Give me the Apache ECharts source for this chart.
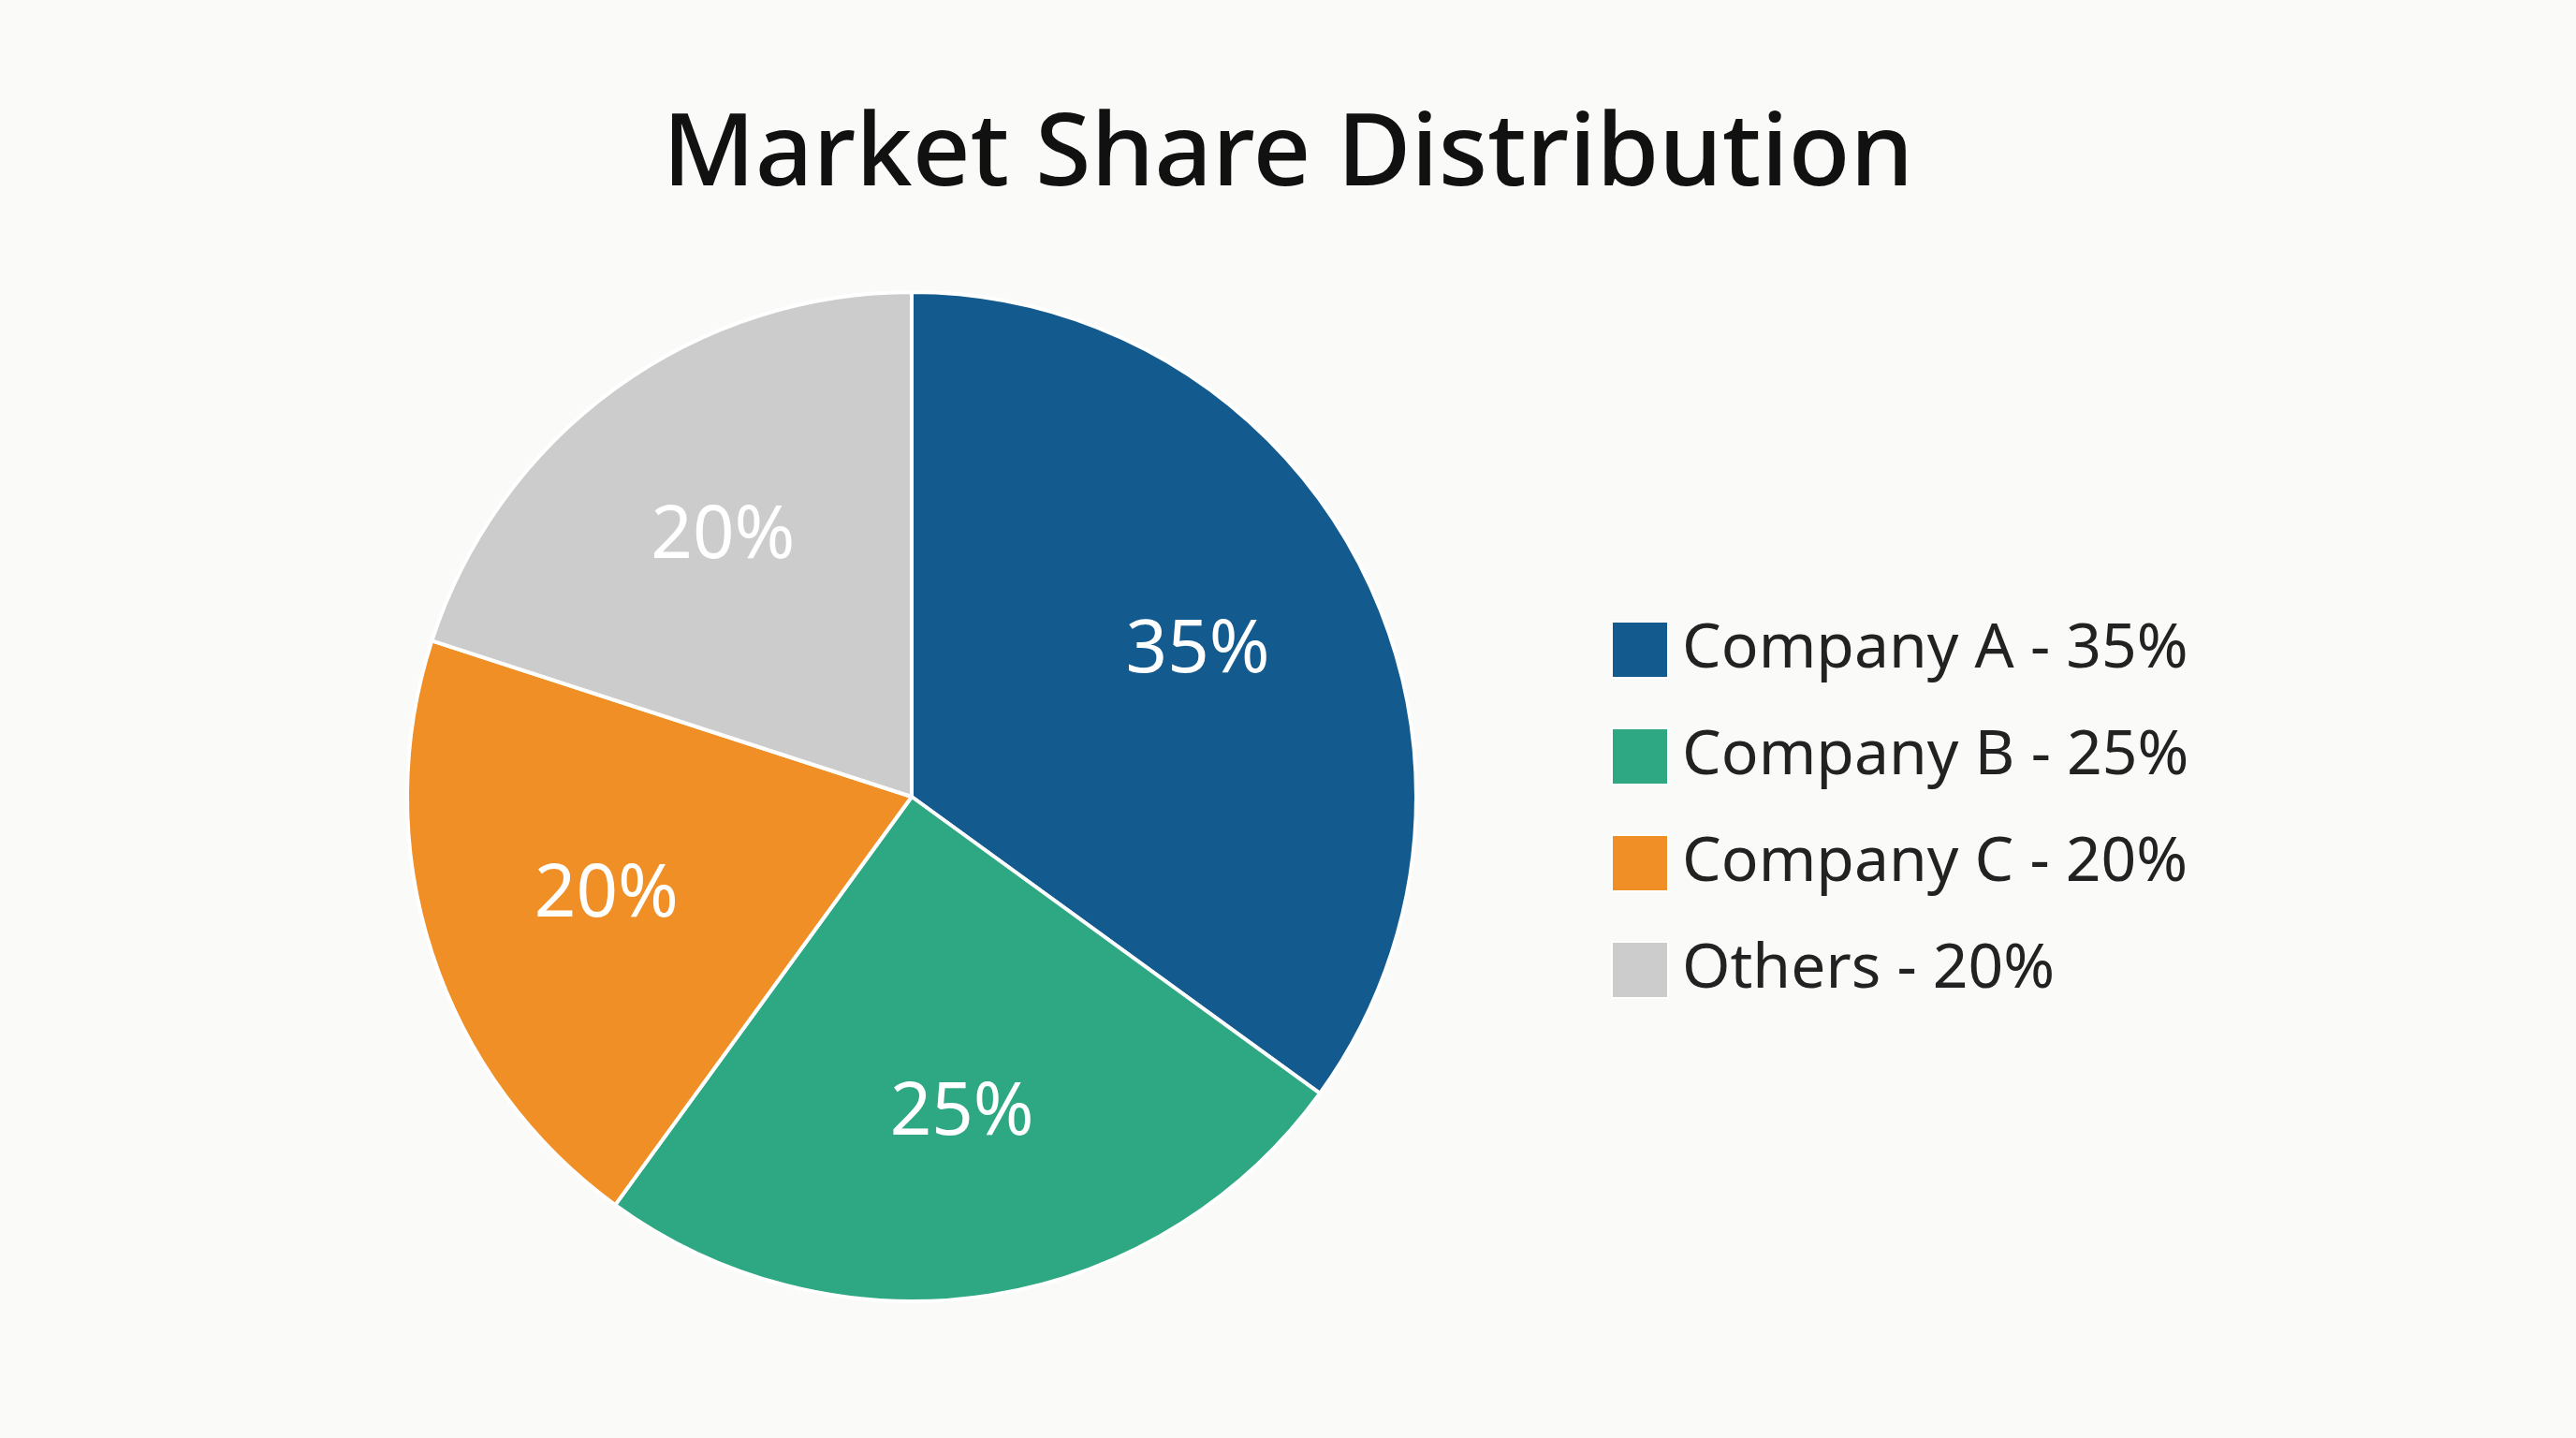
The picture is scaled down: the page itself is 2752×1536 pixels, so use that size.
<!DOCTYPE html>
<html><head><meta charset="utf-8">
<script src="https://cdn.jsdelivr.net/npm/echarts@6/dist/echarts.min.js"></script>
<style>html,body{margin:0;padding:0;background:#fafaf8}#c{width:2752px;height:1536px}</style>
</head><body><div id="c"></div>
<script>
const categories = ["Company A", "Company B", "Company C", "Others"];
const values = [35, 25, 20, 20];
const colors = ["#135b8f", "#2ea882", "#f08f26", "#cccccc"];
const titleText = "Market Share Distribution";

const chart = echarts.init(document.getElementById('c'));
const fontFamily = "'Noto Sans', 'Open Sans', sans-serif";
chart.setOption({
  backgroundColor: '#fafaf8',
  animation: false,
  title: {
    text: titleText, left: 'center', top: 108,
    textStyle: {fontFamily, fontSize: 108, fontWeight: 500, color: '#111'}
  },
  legend: {
    orient: 'vertical', left: 1716, top: 656,
    itemWidth: 60, itemHeight: 60, itemGap: 48,
    icon: 'rect',
    data: categories,
    formatter: n => n + ' - ' + values[categories.indexOf(n)] + '%',
    textStyle: {fontFamily, fontSize: 66, color: '#222', padding: [0, 0, 0, 10]}
  },
  color: colors,
  series: [{
    type: 'pie', center: [974, 851], radius: [0, 539],
    startAngle: 90, clockwise: true,
    itemStyle: {borderColor: '#ffffff', borderWidth: 4},
    label: {show: false}, labelLine: {show: false},
    data: categories.map((n, i) => ({name: n, value: values[i]}))
  }, {
    type: 'pie', center: [974, 851], radius: [0, 680],
    startAngle: 90, clockwise: true, silent: true,
    legendHoverLink: false,
    itemStyle: {color: 'transparent', borderWidth: 0},
    label: {show: true, position: 'inside', formatter: '{c}%',
      fontFamily, fontSize: 78, color: '#ffffff'},
    labelLine: {show: false},
    data: categories.map((n, i) => ({name: n + ' ', value: values[i]}))
  }]
});
</script></body></html>
